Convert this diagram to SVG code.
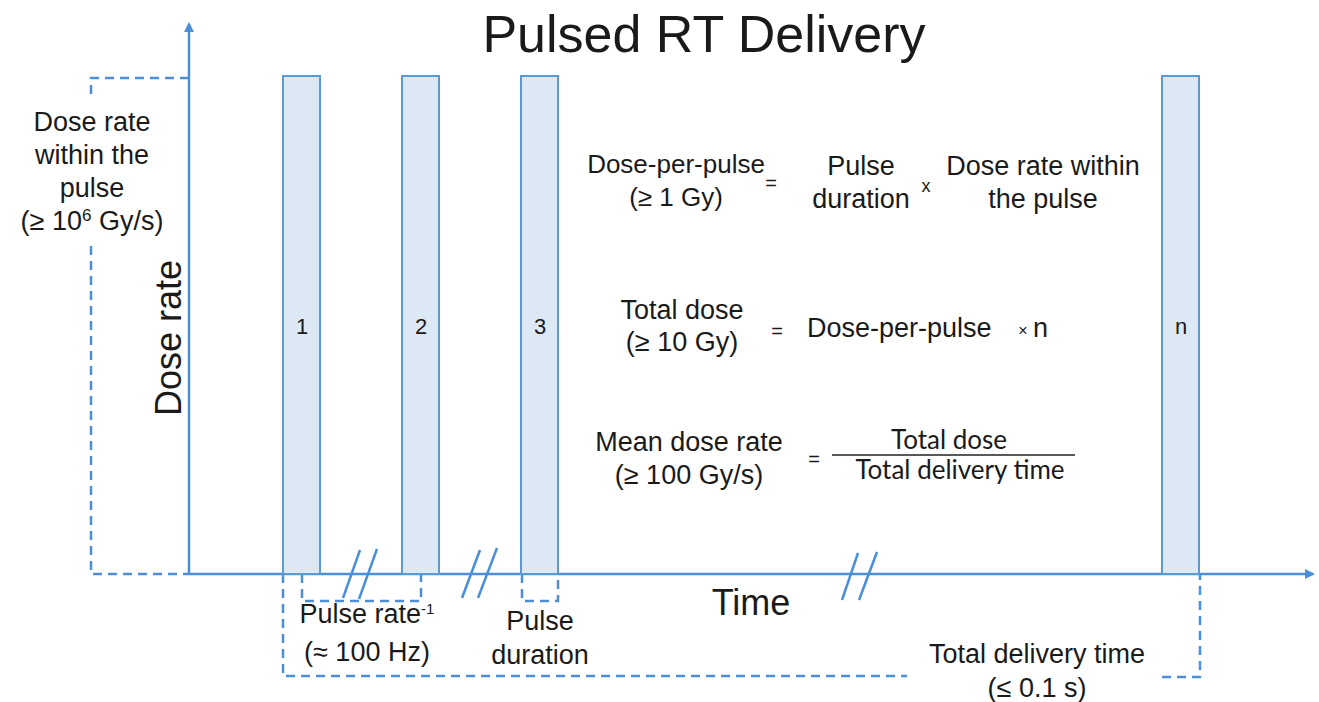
<svg xmlns="http://www.w3.org/2000/svg" width="1319" height="702" viewBox="0 0 1319 702">
<style>
text{font-family:"Liberation Sans",Arial,sans-serif;fill:#1a1a1a}
.t27{font-size:27px}
.t26{font-size:26px}
.c{text-anchor:middle}
.axis{stroke:#4a8fd8;stroke-width:2.5;fill:none}
.dash{stroke:#4a8fd8;stroke-width:2.5;fill:none;stroke-dasharray:9 6}
.bar{fill:#dde8f5;stroke:#5b9bd5;stroke-width:2}
.brk{stroke:#4a8fd8;stroke-width:2.5;fill:none}
.frac{font-family:Lato,"Open Sans",sans-serif;font-size:26px}
</style>
<defs>
<marker id="arr" markerWidth="10" markerHeight="10" refX="8" refY="5" orient="auto" markerUnits="userSpaceOnUse">
<path d="M0,0 L10,5 L0,10 Z" fill="#4a8fd8"/>
</marker>
</defs>
<rect width="1319" height="702" fill="#ffffff"/>
<text x="704" y="52" class="c" style="font-size:52px">Pulsed RT Delivery</text>

<g id="connectors">
<line class="axis" x1="189" y1="574" x2="189" y2="24" marker-end="url(#arr)"/>
<line class="axis" x1="189" y1="574" x2="1313" y2="574" marker-end="url(#arr)"/>
<path class="dash" d="M189,78 H91 V97"/>
<path class="dash" d="M91,246 V574 H189"/>
<path class="dash" d="M302,574 V601 H421 V574"/>
<path class="dash" d="M522,574 V601 H558 V574"/>
<path class="dash" d="M283,574 V676 H907"/>
<path class="dash" d="M1162,677 H1200 V574"/>
<g id="breaks">
<line class="brk" x1="343" y1="598" x2="360" y2="550"/>
<line class="brk" x1="359" y1="599" x2="377" y2="549"/>
<line class="brk" x1="462" y1="598" x2="480" y2="550"/>
<line class="brk" x1="478" y1="598" x2="497" y2="548"/>
<line class="brk" x1="842" y1="600" x2="858" y2="553"/>
<line class="brk" x1="859" y1="600" x2="877" y2="552"/>
</g>
</g>

<g id="pulse1"><rect class="bar" x="283" y="76" width="37" height="498"/><text x="302" y="334" class="c" style="font-size:22px">1</text></g>
<g id="pulse2"><rect class="bar" x="402" y="76" width="37" height="498"/><text x="421" y="334" class="c" style="font-size:22px">2</text></g>
<g id="pulse3"><rect class="bar" x="521" y="76" width="37" height="498"/><text x="540" y="334" class="c" style="font-size:22px">3</text></g>
<g id="pulseN"><rect class="bar" x="1162" y="76" width="37" height="498"/><text x="1181" y="334" class="c" style="font-size:22px">n</text></g>

<g id="yLabel"><text transform="translate(181,338) rotate(-90)" class="c" style="font-size:36px">Dose rate</text></g>
<g id="xLabel"><text x="751" y="615" class="c" style="font-size:36px">Time</text></g>

<g id="doseRateWithin">
<text x="92" y="131" class="c t27">Dose rate</text>
<text x="92" y="164" class="c t27">within the</text>
<text x="92" y="197" class="c t27">pulse</text>
<text x="92" y="230" class="c t27">(≥ 10<tspan dy="-9" style="font-size:17px">6</tspan><tspan dy="9"> Gy/s)</tspan></text>
</g>

<g id="pulseRate">
<text x="367" y="623" class="c t27">Pulse rate<tspan dy="-9" style="font-size:15px">-1</tspan></text>
<text x="367" y="661" class="c t27">(≈ 100 Hz)</text>
</g>
<g id="pulseDuration">
<text x="540" y="630" class="c t27">Pulse</text>
<text x="540" y="664" class="c t27">duration</text>
</g>
<g id="totalDeliveryTime">
<text x="1037" y="663" class="c t27">Total delivery time</text>
<text x="1037" y="697" class="c t27">(≤ 0.1 s)</text>
</g>

<g id="eq1">
<text x="676" y="173" class="c t26">Dose-per-pulse</text>
<text x="676" y="206" class="c t26">(≥ 1 Gy)</text>
<text x="771" y="190" class="c" style="font-size:20px">=</text>
<text x="861" y="175" class="c t27">Pulse</text>
<text x="861" y="208" class="c t27">duration</text>
<text x="926" y="192" class="c" style="font-size:18px">x</text>
<text x="1043" y="175" class="c t27">Dose rate within</text>
<text x="1043" y="208" class="c t27">the pulse</text>
</g>

<g id="eq2">
<text x="682" y="319" class="c t27">Total dose</text>
<text x="682" y="351" class="c t27">(≥ 10 Gy)</text>
<text x="777" y="338" class="c" style="font-size:20px">=</text>
<text x="807" y="337" class="t27">Dose-per-pulse</text>
<text x="1023" y="336" class="c" style="font-size:16px">×</text>
<text x="1033" y="337" class="t27">n</text>
</g>

<g id="eq3">
<text x="689" y="451" class="c t27">Mean dose rate</text>
<text x="689" y="484" class="c t27">(≥ 100 Gy/s)</text>
<text x="814" y="466" class="c" style="font-size:20px">=</text>
<text x="949" y="449" class="c frac">Total dose</text>
<line x1="832" y1="455" x2="1075" y2="455" stroke="#222" stroke-width="1.5"/>
<text x="960" y="479" class="c frac">Total delivery time</text>
</g>
</svg>
